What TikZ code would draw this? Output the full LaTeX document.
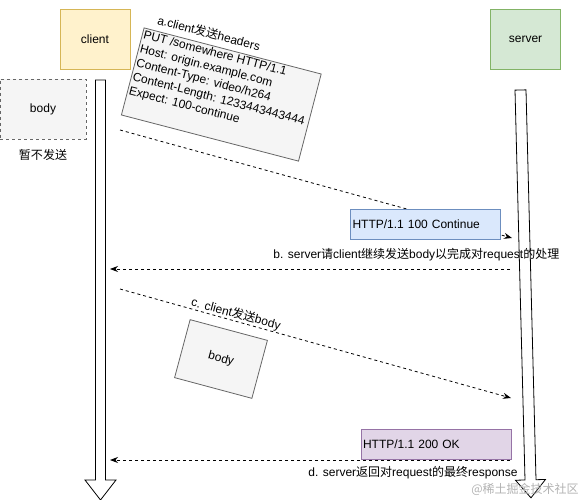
\documentclass[tikz,border=0pt]{standalone}
\usepackage{fontspec}
\setmainfont{Liberation Sans}
\newfontfamily\cjkfont{Noto Sans CJK SC}
\newcommand{\zh}[1]{{\cjkfont #1}}
\usetikzlibrary{arrows.meta}

\definecolor{yfill}{HTML}{FFF2CC}
\definecolor{ydraw}{HTML}{D6B656}
\definecolor{gfill}{HTML}{D5E8D4}
\definecolor{gdraw}{HTML}{82B366}
\definecolor{bfill}{HTML}{DAE8FC}
\definecolor{bdraw}{HTML}{6C8EBF}
\definecolor{pfill}{HTML}{E1D5E7}
\definecolor{pdraw}{HTML}{9673A6}
\definecolor{kfill}{HTML}{F5F5F5}
\definecolor{kdraw}{HTML}{666666}

\begin{document}
\begin{tikzpicture}[x=1pt, y=-1pt, line width=0.8pt,
    every node/.style={font=\fontsize{12}{14.5}\selectfont, inner sep=0pt},
    party/.style={draw, minimum width=70pt, minimum height=60pt},
    greybox/.style={draw=kdraw, fill=kfill},
    msgbox/.style={draw, minimum width=150pt, minimum height=30pt, text width=146pt, align=left},
    lifeline/.style={draw=black, fill=white},
    msg/.style={dash pattern=on 3pt off 3pt, -{Stealth[length=8pt,width=6pt]}}]

    \useasboundingbox (0,0) rectangle (581,500);

    % the two parties
    \node[party, fill=yfill, draw=ydraw] (C) at (95,39) {client};
    \node[party, fill=gfill, draw=gdraw] (S) at (525.5,39) {server};

    % body kept back for now
    \node[greybox, dashed, minimum width=86pt, minimum height=60pt] (B) at (43,109) {body};
    \node (hold) at (43,155) {\zh{暂不发送}};

    % lifelines as big arrows
    \draw[lifeline] (95.5,80) -- (105.5,80) -- (105.5,480) -- (116,480) -- (100.5,500)
        -- (85,480) -- (95.5,480) -- cycle;
    \begin{scope}[shift={(520.5,90)}, rotate=1.47]
        \draw[lifeline] (-5.5,0) -- (5.5,0) -- (5.5,390) -- (15,390) -- (0,408)
            -- (-15,390) -- (-5.5,390) -- cycle;
    \end{scope}

    % end points of the messages
    \coordinate (a1) at (120,130);
    \coordinate (a2) at (512,238);
    \coordinate (b1) at (510,269);
    \coordinate (b2) at (110,269);
    \coordinate (c1) at (120,289);
    \coordinate (c2) at (511,398);
    \coordinate (d1) at (510,460);
    \coordinate (d2) at (110,460);

    % messages
    \draw[msg] (a1) -- (a2);
    \draw[msg] (b1) -- (b2);
    \draw[msg] (c1) -- (c2);
    \draw[msg] (d1) -- (d2);

    % a. request headers
    \node[greybox, rotate=-14.6, minimum width=183pt, minimum height=90pt] (hdr) at (221.3,94.5) {};
    \node[rotate=-14.6, anchor=north west, align=left, inner sep=1.5pt] (hdrtxt) at (hdr.north west)
        {PUT /somewhere HTTP/1.1\\Host: origin.example.com\\Content-Type: video/h264\\
         Content-Length: 1233443443444\\Expect: 100-continue};
    \node[rotate=-14.6] (la) at (209,33) {a.client\zh{发送}headers};

    % b. 100 continue
    \node[msgbox, fill=bfill, draw=bdraw, inner sep=2pt] (R1) at (425.5,224) {HTTP/1.1 100 Continue};
    \node[anchor=west] (lb) at (273,255) {b. server\zh{请}client\zh{继续发送}body\zh{以完成对}request\zh{的处理}};

    % c. body
    \node[rotate=-15] (lc) at (236,314) {c. client\zh{发送}body};
    \node[greybox, rotate=-15, minimum width=80pt, minimum height=60pt] (B2) at (221,359) {body};

    % d. final response
    \node[msgbox, fill=pfill, draw=pdraw, inner sep=2pt] (R2) at (436,444) {HTTP/1.1 200 OK};
    \node[anchor=east] (ld) at (518,473) {d. server\zh{返回对}request\zh{的最终}response};

    \node[anchor=east, text=black!30] (wm) at (579,489) {\zh{@稀土掘金技术社区}};

\end{tikzpicture}
\end{document}
